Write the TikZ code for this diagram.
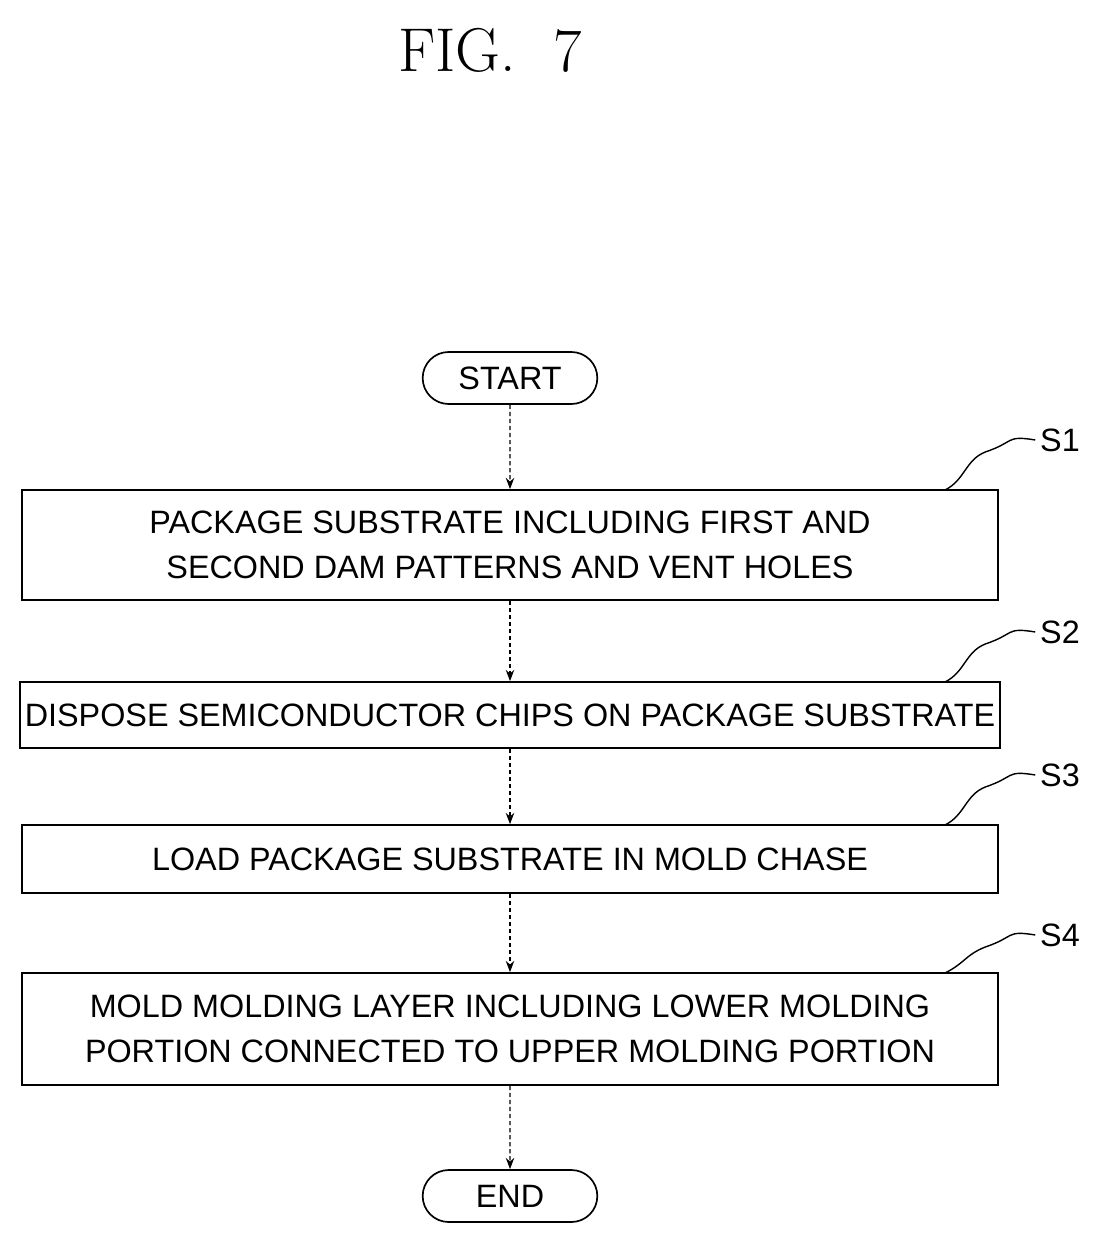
\documentclass[tikz,border=0pt]{standalone}
\usepackage{fontspec}
\setsansfont{Liberation Sans}
\usetikzlibrary{positioning,shapes.misc,arrows.meta}
\tikzset{
  stepbox/.style={draw, line width=1.2pt, minimum width=24.4cm, align=center, font=\sffamily\fontsize{23}{32}\selectfont},
  term/.style={draw, line width=1.2pt, rounded rectangle, minimum width=4.6cm, minimum height=1.3cm, font=\sffamily\fontsize{23}{28}\selectfont},
  flow/.style={line width=1pt, densely dashed, -{Stealth[length=8pt,width=6pt]}},
  tag/.style={font=\sffamily\fontsize{23}{28}\selectfont}
}
\begin{document}
\begin{tikzpicture}[x=0.025cm,y=-0.025cm]
	\useasboundingbox (0,0) rectangle (1107,1254);
	% Title
	\node[font=\fontsize{44}{50}\selectfont] (title) at (490,50) {FIG.~~7};
	% Terminals and steps
	\node[term] (start) at (510,378) {START};
	\node[stepbox, minimum height=2.75cm] (s1) at (510,545) {PACKAGE SUBSTRATE INCLUDING FIRST AND\\SECOND DAM PATTERNS AND VENT HOLES};
	\node[stepbox, minimum height=1.65cm] (s2) at (510,715) {DISPOSE SEMICONDUCTOR CHIPS ON PACKAGE SUBSTRATE};
	\node[stepbox, minimum height=1.7cm] (s3) at (510,859) {LOAD PACKAGE SUBSTRATE IN MOLD CHASE};
	\node[stepbox, minimum height=2.8cm] (s4) at (510,1029) {MOLD MOLDING LAYER INCLUDING LOWER MOLDING\\PORTION CONNECTED TO UPPER MOLDING PORTION};
	\node[term] (end) at (510,1196) {END};
	% Connectors
	\draw[flow] (start) -- (s1);
	\draw[flow] (s1) -- (s2);
	\draw[flow] (s2) -- (s3);
	\draw[flow] (s3) -- (s4);
	\draw[flow] (s4) -- (end);
	% Step labels
	\foreach \n/\y/\t in {1/440/490,2/632/682,3/775/825,4/935/973}{
		\node[tag] (lab\n) at (1060,\y) {S\n};
		\coordinate (tip\n) at (945,\t);
		\draw[line width=1pt] (lab\n.west) .. controls ++(-30,-5) and ++(30,-10) .. ++(-50,12)
			.. controls ++(-20,8) and ++(20,-10) .. (tip\n);
	}
\end{tikzpicture}
\end{document}
